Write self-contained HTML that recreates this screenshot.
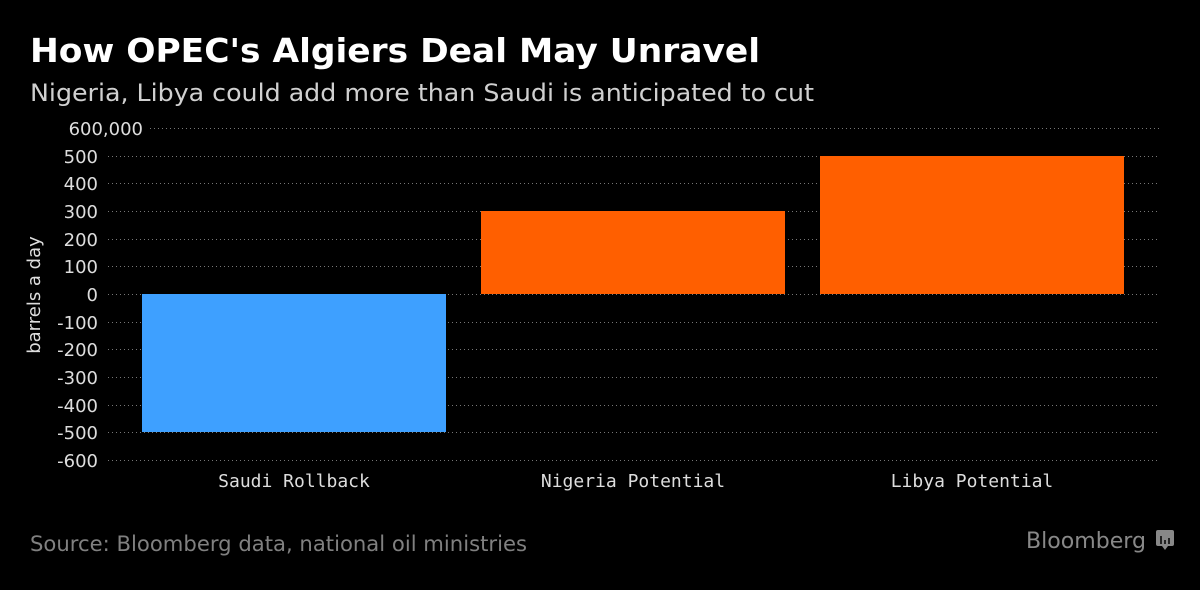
<!DOCTYPE html>
<html><head><style>
body{margin:0;background:#000;width:1200px;height:586px;overflow:hidden;font-family:"DejaVu Sans",sans-serif}
</style></head><body>
<svg width="1200" height="586" xmlns="http://www.w3.org/2000/svg">
<rect width="1200" height="586" fill="#000"/>
<text x="30" y="62" fill="#fff" font-family="DejaVu Sans, sans-serif" font-weight="bold" font-size="33" textLength="730" lengthAdjust="spacingAndGlyphs">How OPEC's Algiers Deal May Unravel</text>
<text x="30" y="101" fill="#d0d0d0" font-family="DejaVu Sans, sans-serif" font-size="24" textLength="784" lengthAdjust="spacingAndGlyphs">Nigeria, Libya could add more than Saudi is anticipated to cut</text>
<g stroke="#777" stroke-width="1" stroke-dasharray="1,3">
<line x1="150" x2="1160" y1="128.5" y2="128.5"/>
<line x1="108" x2="1160" y1="156.5" y2="156.5"/>
<line x1="108" x2="1160" y1="183.5" y2="183.5"/>
<line x1="108" x2="1160" y1="211.5" y2="211.5"/>
<line x1="108" x2="1160" y1="239.5" y2="239.5"/>
<line x1="108" x2="1160" y1="266.5" y2="266.5"/>
<line x1="108" x2="1160" y1="294.5" y2="294.5"/>
<line x1="108" x2="1160" y1="322.5" y2="322.5"/>
<line x1="108" x2="1160" y1="349.5" y2="349.5"/>
<line x1="108" x2="1160" y1="377.5" y2="377.5"/>
<line x1="108" x2="1160" y1="405.5" y2="405.5"/>
<line x1="108" x2="1160" y1="432.5" y2="432.5"/>
<line x1="108" x2="1160" y1="460.5" y2="460.5"/>
</g>
<g fill="#ddd" font-size="18" text-anchor="end" font-family="DejaVu Sans, sans-serif">
<text x="143" y="135">600,000</text>
<text x="98" y="163">500</text>
<text x="98" y="190">400</text>
<text x="98" y="218">300</text>
<text x="98" y="246">200</text>
<text x="98" y="273">100</text>
<text x="98" y="301">0</text>
<text x="98" y="329">-100</text>
<text x="98" y="356">-200</text>
<text x="98" y="384">-300</text>
<text x="98" y="412">-400</text>
<text x="98" y="439">-500</text>
<text x="98" y="467">-600</text>
</g>
<text transform="translate(40,295) rotate(-90)" fill="#ddd" font-size="18" text-anchor="middle">barrels a day</text>
<rect x="142" y="294" width="304" height="138" fill="#3ea0ff"/>
<rect x="481" y="211" width="304" height="83" fill="#ff5f00"/>
<rect x="820" y="156" width="304" height="138" fill="#ff5f00"/>
<g fill="#ddd" font-size="18" text-anchor="middle" font-family="DejaVu Sans Mono, monospace">
<text x="294" y="487">Saudi Rollback</text>
<text x="633" y="487">Nigeria Potential</text>
<text x="972" y="487">Libya Potential</text>
</g>
<text x="30" y="551" fill="#808080" font-size="21" textLength="497" lengthAdjust="spacingAndGlyphs">Source: Bloomberg data, national oil ministries</text>
<text x="1026" y="548" fill="#888" font-family="DejaVu Sans, sans-serif" font-size="22" textLength="120" lengthAdjust="spacingAndGlyphs">Bloomberg</text>
<rect x="1156" y="530" width="18" height="16" rx="2" fill="#888"/>
<path d="M1162 546 l3 4 l3 -4z" fill="#888"/>
<g stroke="#000" stroke-width="1.5"><line x1="1161" y1="536" x2="1161" y2="544"/><line x1="1165" y1="540" x2="1165" y2="544"/><line x1="1169" y1="538" x2="1169" y2="544"/></g>
</svg>
</body></html>
